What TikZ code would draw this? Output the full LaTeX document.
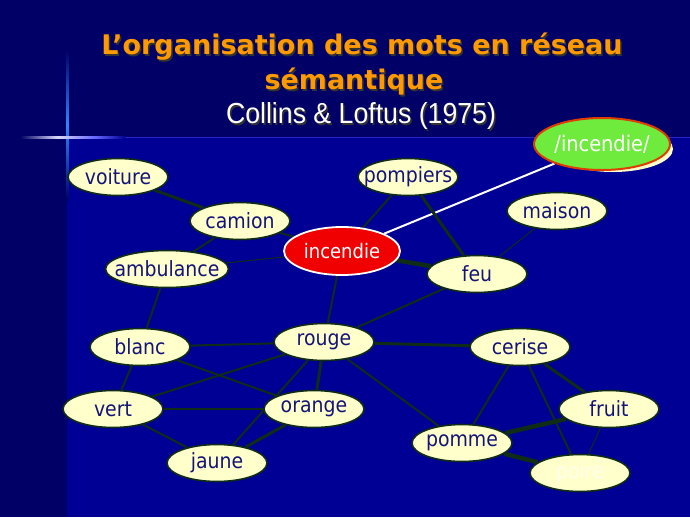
\documentclass[tikz,border=0pt]{standalone}
\usepackage{fontspec}
\setmainfont{DejaVu Sans}
\newfontfamily\narrowfont{Liberation Sans}
\usetikzlibrary{shapes.geometric}
\definecolor{bgdark}{RGB}{0,0,102}
\definecolor{bgmain}{RGB}{0,0,148}
\definecolor{cream}{RGB}{255,255,204}
\definecolor{edgegreen}{RGB}{14,44,22}
\definecolor{wordblue}{RGB}{20,20,120}
\definecolor{titleorange}{RGB}{255,153,0}
\definecolor{fire}{RGB}{240,0,0}
\definecolor{lime}{RGB}{110,235,60}
\definecolor{rimred}{RGB}{225,60,0}
\newcommand\wordtxt[1]{\makebox[0pt]{\scalebox{0.9}[1]{#1}}}
\pgfdeclarelayer{bg}
\pgfdeclarelayer{edges}
\pgfsetlayers{bg,edges,main}
\tikzset{
  word/.style={ellipse, draw=edgegreen, line width=1.6pt, fill=cream, text=wordblue,
    minimum width=100pt, minimum height=37pt, inner sep=0pt, font=\fontsize{21}{21}\selectfont},
  hot/.style={ellipse, draw=white, line width=1.8pt, fill=fire, text=white,
    minimum width=116pt, minimum height=48pt, inner sep=0pt, font=\fontsize{20}{20}\selectfont},
  sound/.style={ellipse, draw=rimred, line width=2pt, fill=lime, text=white,
    minimum width=136pt, minimum height=52pt, inner sep=0pt, font=\fontsize{21.5}{21.5}\selectfont},
  thin/.style={draw=edgegreen, line width=1pt},
  med/.style={draw=edgegreen, line width=2pt},
  thick/.style={draw=edgegreen, line width=3pt},
  vthick/.style={draw=edgegreen, line width=4.5pt},
  ttl/.style={font=\fontsize{27}{27}\selectfont\bfseries},
  sub/.style={font=\narrowfont\fontsize{29}{29}\selectfont},
}
\begin{document}
\begin{tikzpicture}[x=1pt,y=-1pt]
\begin{pgfonlayer}{bg}
\fill[bgdark] (0,0) rectangle (690,517);
\fill[bgmain] (67,137) rectangle (690,517);
\shade[top color=bgdark, bottom color=bgdark, middle color=cyan!40!blue!80!white] (66,50) rectangle (68.5,200);
\shade[left color=bgdark, right color=blue!60!white, middle color=white!85!blue] (20,136) rectangle (95,138.5);
\shade[left color=blue!60!white, right color=bgmain] (95,136) rectangle (125,138.5);
\fill[blue!70!white, opacity=0.5] (125,136.5) rectangle (690,137.5);
\end{pgfonlayer}
% title
\node[ttl, text=black!80] (t1s) at (363.5,48.5) {L’organisation des mots en réseau};
\node[ttl, text=titleorange] (t1) at (362,47) {L’organisation des mots en réseau};
\node[ttl, text=black!80] (t2s) at (355.5,83.5) {sémantique};
\node[ttl, text=titleorange] (t2) at (354,82) {sémantique};
\node[sub, text=black!80] (t3s) at (362.5,117.5) {\scalebox{0.92}[1]{Collins \& Loftus (1975)}};
\node[sub, text=white] (t3) at (361,116) {\scalebox{0.92}[1]{Collins \& Loftus (1975)}};
% nodes
\node[word] (voiture) at (118,177) {\wordtxt{voiture}};
\node[word] (camion) at (240,221) {\wordtxt{camion}};
\node[word, minimum width=123pt] (ambulance) at (167,269) {\wordtxt{ambulance}};
\node[word] (pompiers) at (408,177) {\wordtxt{pompiers}};
\node[word] (maison) at (557,211) {\wordtxt{maison}};
\node[word] (feu) at (477,274) {\wordtxt{feu}};
\node[hot] (incendie) at (342,251) {\wordtxt{incendie}};
\node[ellipse, fill=cream, minimum width=120pt, minimum height=46pt] (shadow) at (613,149) {};
\node[sound] (son) at (602,144) {\wordtxt{/incendie/}};
\node[word] (blanc) at (140,347) {\wordtxt{blanc}};
\node[word] (rouge) at (324,342) {\wordtxt{rouge}};
\node[word] (vert) at (113,409) {\wordtxt{vert}};
\node[word] (orange) at (314,409) {\wordtxt{orange}};
\node[word] (jaune) at (217,463) {\wordtxt{jaune}};
\node[word] (cerise) at (520,347) {\wordtxt{cerise}};
\node[word] (fruit) at (609,409) {\wordtxt{fruit}};
\node[word] (pomme) at (462,443) {\wordtxt{pomme}};
\node[word, text=white!92!yellow] (poire) at (580,473) {\wordtxt{poire}};
% edges
\begin{pgfonlayer}{edges}
\draw[thick] (voiture) -- (camion);
\draw[med] (camion) -- (ambulance);
\draw[med] (camion) -- (incendie);
\draw[thin] (ambulance) -- (incendie);
\draw[med] (ambulance) -- (blanc);
\draw[med] (incendie) -- (pompiers);
\draw[vthick] (incendie) -- (feu);
\draw[med] (incendie) -- (rouge);
\draw[white, line width=2pt] (incendie) -- (son);
\draw[thick] (pompiers) -- (feu);
\draw[thin] (feu) -- (maison);
\draw[med] (feu) -- (rouge);
\draw[med] (blanc) -- (rouge);
\draw[med] (blanc) -- (vert);
\draw[med] (blanc) -- (orange);
\draw[med] (rouge) -- (vert);
\draw[med] (rouge) -- (jaune);
\draw[thick] (rouge) -- (orange);
\draw[thick] (rouge) -- (cerise);
\draw[med] (rouge) -- (pomme);
\draw[med] (vert) -- (orange);
\draw[med] (vert) -- (jaune);
\draw[thick] (jaune) -- (orange);
\draw[med] (cerise) -- (pomme);
\draw[med] (cerise) -- (poire);
\draw[thick] (cerise) -- (fruit);
\draw[vthick] (pomme) -- (fruit);
\draw[vthick] (pomme) -- (poire);
\draw[thin] (fruit) -- (poire);
\end{pgfonlayer}
\end{tikzpicture}
\end{document}
